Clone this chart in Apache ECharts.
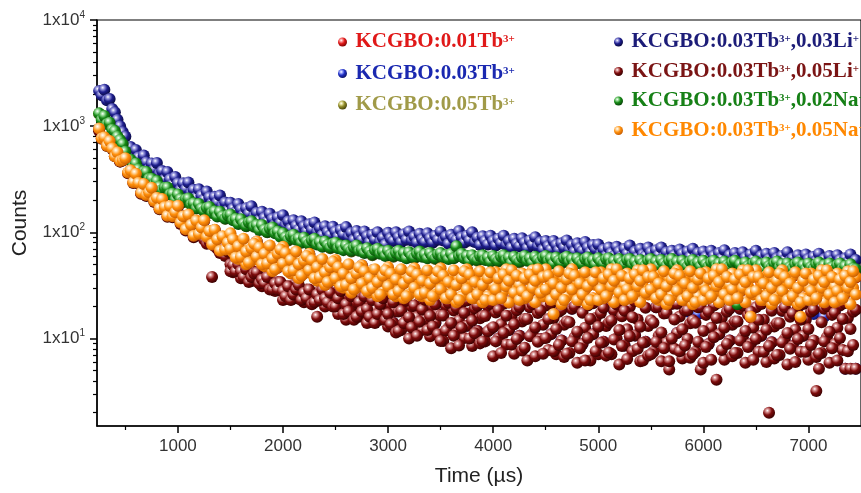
<!DOCTYPE html>
<html>
<head>
<meta charset="utf-8">
<script src="https://cdn.jsdelivr.net/npm/echarts@6/dist/echarts.min.js"></script>
<style>
html,body{margin:0;padding:0;background:#ffffff;}
#chart{width:861px;height:493px;}
</style>
</head>
<body>
<div id="chart"></div>
<script>
// ---------------- DATA ----------------
const seriesNames = [
  'KCGBO:0.01Tb3+',
  'KCGBO:0.03Tb3+',
  'KCGBO:0.05Tb3+',
  'KCGBO:0.03Tb3+,0.03Li+',
  'KCGBO:0.03Tb3+,0.05Li+',
  'KCGBO:0.03Tb3+,0.02Na+',
  'KCGBO:0.03Tb3+,0.05Na+'
];
// legend text pieces: [normal, superscript, normal, superscript]
const legendParts = [
  ['KCGBO:0.01Tb', '3+'],
  ['KCGBO:0.03Tb', '3+'],
  ['KCGBO:0.05Tb', '3+'],
  ['KCGBO:0.03Tb', '3+', ',0.03Li', '+'],
  ['KCGBO:0.03Tb', '3+', ',0.05Li', '+'],
  ['KCGBO:0.03Tb', '3+', ',0.02Na', '+'],
  ['KCGBO:0.03Tb', '3+', ',0.05Na', '+']
];

// time (µs), dense sampling (25 µs)
const timeDense = [
  250,275,300,325,350,375,400,425,450,475,
  500,525,550,575,600,625,650,675,700,725,750,775,800,825,850,875,900,925,950,975,
  1000,1025,1050,1075,1100,1125,1150,1175,1200,1225,1250,1275,1300,1325,1350,1375,1400,1425,1450,1475,
  1500,1525,1550,1575,1600,1625,1650,1675,1700,1725,1750,1775,1800,1825,1850,1875,1900,1925,1950,1975,
  2000,2025,2050,2075,2100,2125,2150,2175,2200,2225,2250,2275,2300,2325,2350,2375,2400,2425,2450,2475,
  2500,2525,2550,2575,2600,2625,2650,2675,2700,2725,2750,2775,2800,2825,2850,2875,2900,2925,2950,2975,
  3000,3025,3050,3075,3100,3125,3150,3175,3200,3225,3250,3275,3300,3325,3350,3375,3400,3425,3450,3475,
  3500,3525,3550,3575,3600,3625,3650,3675,3700,3725,3750,3775,3800,3825,3850,3875,3900,3925,3950,3975,
  4000,4025,4050,4075,4100,4125,4150,4175,4200,4225,4250,4275,4300,4325,4350,4375,4400,4425,4450,4475,
  4500,4525,4550,4575,4600,4625,4650,4675,4700,4725,4750,4775,4800,4825,4850,4875,4900,4925,4950,4975,
  5000,5025,5050,5075,5100,5125,5150,5175,5200,5225,5250,5275,5300,5325,5350,5375,5400,5425,5450,5475,
  5500,5525,5550,5575,5600,5625,5650,5675,5700,5725,5750,5775,5800,5825,5850,5875,5900,5925,5950,5975,
  6000,6025,6050,6075,6100,6125,6150,6175,6200,6225,6250,6275,6300,6325,6350,6375,6400,6425,6450,6475,
  6500,6525,6550,6575,6600,6625,6650,6675,6700,6725,6750,6775,6800,6825,6850,6875,6900,6925,6950,6975,
  7000,7025,7050,7075,7100,7125,7150,7175,7200,7225,7250,7275,7300,7325,7350,7375,7400,7425,7450
];
// time (µs), second scan of the tail (25 µs), for the two broad bands
const timeLate = [
  1500,1525,1550,1575,1600,1625,1650,1675,1700,1725,1750,1775,1800,1825,1850,1875,1900,1925,1950,1975,
  2000,2025,2050,2075,2100,2125,2150,2175,2200,2225,2250,2275,2300,2325,2350,2375,2400,2425,2450,2475,
  2500,2525,2550,2575,2600,2625,2650,2675,2700,2725,2750,2775,2800,2825,2850,2875,2900,2925,2950,2975,
  3000,3025,3050,3075,3100,3125,3150,3175,3200,3225,3250,3275,3300,3325,3350,3375,3400,3425,3450,3475,
  3500,3525,3550,3575,3600,3625,3650,3675,3700,3725,3750,3775,3800,3825,3850,3875,3900,3925,3950,3975,
  4000,4025,4050,4075,4100,4125,4150,4175,4200,4225,4250,4275,4300,4325,4350,4375,4400,4425,4450,4475,
  4500,4525,4550,4575,4600,4625,4650,4675,4700,4725,4750,4775,4800,4825,4850,4875,4900,4925,4950,4975,
  5000,5025,5050,5075,5100,5125,5150,5175,5200,5225,5250,5275,5300,5325,5350,5375,5400,5425,5450,5475,
  5500,5525,5550,5575,5600,5625,5650,5675,5700,5725,5750,5775,5800,5825,5850,5875,5900,5925,5950,5975,
  6000,6025,6050,6075,6100,6125,6150,6175,6200,6225,6250,6275,6300,6325,6350,6375,6400,6425,6450,6475,
  6500,6525,6550,6575,6600,6625,6650,6675,6700,6725,6750,6775,6800,6825,6850,6875,6900,6925,6950,6975,
  7000,7025,7050,7075,7100,7125,7150,7175,7200,7225,7250,7275,7300,7325,7350,7375,7400,7425,7450
];
// time (µs), coarse sampling (100 µs)
const timeCoarse = [
  250,350,450,
  550,650,750,850,950,
  1050,1150,1250,1350,1450,
  1550,1650,1750,1850,1950,
  2050,2150,2250,2350,2450,
  2550,2650,2750,2850,2950,
  3050,3150,3250,3350,3450,
  3550,3650,3750,3850,3950,
  4050,4150,4250,4350,4450,
  4550,4650,4750,4850,4950,
  5050,5150,5250,5350,5450,
  5550,5650,5750,5850,5950,
  6050,6150,6250,6350,6450,
  6550,6650,6750,6850,6950,
  7050,7150,7250,7350,7450
];

// KCGBO:0.01Tb3+ (coarse)
const countsTb001 = [
  940,718,464,
  380,234,260,204,141,
  141,92,129,105,68,
  76,49.5,81,71,46.5,
  57,36.6,62,53,34.6,
  42.5,26.7,48.5,43.5,27.7,
  36.6,23.8,45.5,40.6,25.7,
  34.6,21.8,44.5,40.6,24.7,
  23.8,21.8,31.7,27.7,38.6,
  33.7,20.8,44.5,39.6,23.8,
  23.8,21.8,31.7,26.7,37.6,
  33.7,20.8,43.5,39.6,24.7,
  23.8,21.8,31.7,27.7,15.8,
  33.7,20.8,43.5,38.6,23.8,
  22.8,21.8,30.7,26.7,37.6
];
// KCGBO:0.03Tb3+ (coarse)
const countsTb003 = [
  945,721,467,
  382,235,262,205,141,
  141,93,129,105,69,
  77,50,82,72,47,
  58,37,63,54,35,
  43,27,49,44,28,
  14,22,13,15,14,
  20.5,11.3,13.2,11.8,20.2,
  10,12,10.6,19.7,9.9,
  11,9.6,19.1,8.9,11,
  9.3,18.5,8.6,10.7,9.3,
  19.7,9.2,11.3,18,17,
  8.9,11,9.6,19.1,8.9,
  10.6,9.2,18.3,8.5,10.6,
  17,16,18,5.2,5.2
];
// KCGBO:0.05Tb3+ (coarse)
const countsTb005 = [
  1307,1069,733,
  478,357,317,248,230,
  192,186,157,156,134,
  133,114,116,100,101,
  84,87,77,80,71,
  74,66,68,61,65,
  59,63,57,61,56,
  60,73,59,54,57,
  53,57,52,56,52,
  56,51,55,50,54,
  50,53,49,52,48,
  52,48,52,47,51,
  47,50,47,49,46,
  49,46,49,45,48,
  45,48,44,47,44
];
// KCGBO:0.03Tb3+,0.03Li+ (dense)
const countsLi003 = [
  2150,1950,2200,1750,1800,1450,1350,1150,1000,880,
  800,615,635,519,598,510,456,529,458,395,446,391,450,357,378,316,371,316,284,332,
  290,253,290,255,295,236,252,214,254,222,204,242,214,188,216,191,222,178,191,161,
  190,167,155,185,165,146,169,150,176,142,153,130,156,137,126,150,134,119,138,123,
  145,117,127,108,130,115,106,127,114,102,119,106,124,101,110,94,114,101,94,113,
  102,91,106,95,112,91,99,85,103,91,85,102,92,81,95,85,100,82,89,77,
  99,88,83,100,90,81,96,85,102,84,91,80,97,86,81,98,88,80,93,85,
  102,84,91,78,95,88,85,103,90,80,93,84,100,81,89,76,92,83,77,93,
  83,75,87,79,93,76,83,72,87,78,74,88,80,71,84,76,90,74,81,69,
  83,74,69,83,76,68,79,72,84,69,76,66,79,71,67,81,72,65,76,69,
  77,63,69,60,72,64,60,73,66,60,70,63,75,61,66,58,70,62,60,72,
  65,58,68,61,72,59,65,56,67,61,57,69,63,56,66,59,70,58,64,55,
  66,59,55,67,60,55,64,57,68,55,61,53,64,57,54,65,58,53,62,56,
  67,55,60,52,63,56,53,64,57,52,60,55,65,54,57,50,61,55,51,62,
  56,51,59,54,63,52,56,49,60,54,51,61,55,49,57,52,62,51,55
];
// KCGBO:0.03Tb3+,0.05Li+ (dense)
const countsLi005 = [
  900,760,770,650,700,610,520,560,465,475,
  490,360,376,291,350,287,231,280,220,234,258,193,208,165,202,170,140,173,139,152,
  173,120,138,104,143,114,90,125,94,106,85,78,82,38,74,70,64,76,60,66,
  50,42,50,43,37,45,38,40,44,35,36,38,31,38,32,34,34,28,34,29,
  23,31,26,28,32,24,26,28,22,29,23,26,26,16,28,23,20,27,22,24,
  27,17,20,23,15,25,18,21,22,16,24,18,14,22,17,19,24,15,18,21,
  13,21,14,18,18,12,22,15,10,20,13,16,22,12,15,19,10.5,20,14,17,
  16.5,9.5,20.5,12.6,8.1,18.4,11.3,14.8,21.7,10.1,13.2,17.3,8.5,19.3,11.8,15.5,16.3,9.4,20.2,12.3,
  6.8,17.6,10,13.6,21.2,8.8,12,16.4,7.2,18.5,10.6,14.5,15.3,6.2,19.7,11.2,6.8,17.4,9.9,13.5,
  20.5,7.8,11,15.6,7.1,17.9,9.6,13.5,14.5,7.3,19.1,10.3,5.9,8.2,8.9,12.6,20.5,6.2,11,15.6,
  7.1,17.4,9.3,13.1,14.1,7.1,18.5,10,5.7,16.2,8.6,12.2,19.9,7.6,10.7,15.1,6.1,6.2,9.3,13.1,
  14.9,7.5,19.7,10.6,6.1,17.2,9.2,5.1,21.1,8.0,11.3,16.1,6.5,18.4,9.9,13.9,14.9,7.5,19.7,5.1,
  5.9,16.7,8.9,12.6,20.5,4.1,11,15.6,6.3,17.9,9.6,13.5,14.5,7.3,19.1,10.3,5.9,16.7,8.9,12.6,
  19.7,7.5,10.6,15,6,2.0,9.2,13,13.9,7,18.3,9.9,5.7,16,8.5,12.1,19.7,7.5,10.6,15,
  6.3,17.9,9.6,3.2,5.2,7.3,19.1,10.3,5.9,16.7,8.9,12.6,20.5,7.8,5.2,15.6,5.2,17.9,5.2
];
// KCGBO:0.03Tb3+,0.05Li+ (second scan, timeLate)
const countsLi005b = [
  43,49,43,50,43,38,45,34,38,41,42,33,36,33,38,29,29,33,29,34,
  28,25,31,23,26,29,32,23,27,24,29,21,22,26,23,29,24,22,27,20,
  20,24,28,17,21,18,25,15,16,22,18,25,19,16,23,14,17,21,24,15,
  17,13.6,22,11.4,11.8,18.3,14,22.7,15.9,12.7,20.5,10.6,14.4,18.8,23.2,12,16.3,13,21,11,
  9.5,16.5,11.9,21.7,14,10.6,19.5,8.6,12.6,17.4,22.8,10,14.7,11.2,20.4,9,9.4,16.3,11.7,21.3,
  12.8,9.4,18.6,7.3,11.3,16.4,22.5,8.8,13.6,9.9,19.8,7.7,8.2,15.3,10.5,21,12.7,9.3,18.4,7.2,
  10.1,15.3,21.5,7.6,12.3,8.7,18.7,6.7,7.2,14.2,9.4,20.1,11.6,8.1,17.5,6.2,10.1,15.3,21.5,7.6,
  12.9,9.1,19.5,6.9,7.4,14.8,9.8,20.9,12,8.5,18.3,6.4,10.5,15.9,22.4,8,12.9,9.1,19.5,6.9,
  7.1,14.1,9.3,19.9,11.4,8.1,17.4,6.1,10,15.1,21.3,7.6,12.2,8.6,18.5,6.6,7.1,14.1,9.3,19.9,
  11.8,8.3,17.9,6.3,10.3,15.6,22,7.8,12.6,8.9,19.1,6.8,7.3,14.5,9.6,20.5,11.8,8.3,17.9,6.3,
  9.9,15,21.1,7.5,12.1,8.5,18.3,6.5,7,13.9,9.2,19.7,11.3,8,17.2,6,9.9,15,21.1,7.5,
  12.3,8.7,18.7,6.7,7.2,14.2,9.4,20.1,11.6,8.1,17.5,6.2,10.1,15.3,21.6,7.6,12.3,8.7,18.7
];
// KCGBO:0.03Tb3+,0.02Na+ (dense)
const countsNa002 = [
  1320,1150,1250,1050,1080,930,900,800,740,680,
  576,486,483,418,445,393,361,373,371,319,320,282,304,270,251,263,264,229,232,204,
  227,206,194,205,208,183,188,168,185,168,159,170,173,152,158,141,156,142,135,144,
  147,130,134,120,133,121,115,124,127,113,117,105,117,106,101,108,111,98,102,91,
  98,90,85,92,95,85,88,80,89,82,78,84,87,77,81,73,82,76,72,78,
  80,71,75,68,75,70,67,72,75,67,69,64,71,66,62,68,70,63,66,60,
  67,62,60,64,67,60,64,57,65,60,58,63,66,59,62,57,64,59,57,62,
  64,58,61,56,63,57,74,60,63,57,60,54,61,56,55,60,61,55,58,53,
  60,56,54,59,61,55,58,52,59,55,53,58,60,54,57,52,59,55,53,58,
  60,54,57,51,58,54,52,57,59,53,56,50,57,53,51,56,58,52,55,50,
  57,53,51,56,57,51,54,50,56,52,50,55,56,50,53,49,55,51,49,54,
  56,50,53,49,55,51,49,54,56,50,53,48,54,50,48,53,55,50,52,48,
  54,50,48,52,54,49,51,47,53,49,48,52,54,21,50,46,52,48,47,51,
  53,48,50,46,52,48,47,51,53,47,50,45,51,47,46,50,52,47,49,45,
  51,47,46,50,52,47,49,45,51,47,45,49,51,46,48,44,50,46,45
];
// KCGBO:0.03Tb3+,0.05Na+ (dense)
const countsNa005 = [
  950,770,786,655,725,619,520,568,469,479,
  500,367,384,297,357,293,236,286,225,239,263,197,212,168,206,173,143,177,142,155,
  178,124,142,107,147,118,93,129,97,111,130,91,103,77,106,86,67,92,69,80,
  98,65,77,56,83,65,50,75,54,65,82,55,66,48,72,57,43,65,47,57,
  73,48,58,41,63,49,37,57,41,49,63,41,50,35,54,42,32,49,35,43,
  55,34,43,30,47,37,27,43,30,37,49,31,38,27,44,33,25,40,28,35,
  47,29,37,25,42,32,24,39,26,34,46,28,36,25,41,31,23,39,26,34,
  46,27,35,24,40,31,22,37,25,33,45,27,35,24,41,30,22,37,25,32,
  32,42,24,35,28,45,22,30,39,26,32,41,24,36,28,44,22,31,39,25,
  45,27,34,17,40,30,21,37,25,32,45,27,34,23,40,29,21,37,24,32,
  32,42,24,36,28,45,22,31,39,26,32,41,24,36,27,44,22,31,38,26,
  45,27,34,23,40,30,21,37,25,32,44,27,35,23,40,30,21,37,25,32,
  32,42,24,36,27,45,22,31,39,26,32,41,24,35,28,44,22,31,16,26,
  44,26,34,23,39,29,21,37,24,32,44,26,34,23,39,29,21,16,24,31,
  31,41,23,35,27,44,22,30,38,25,31,41,23,35,27,43,21,30,38
];
// KCGBO:0.03Tb3+,0.05Na+ (second scan, timeLate)
const countsNa005b = [
  70,86,58,74,59,87,66,52,71,78,59,72,50,63,51,75,57,45,63,69,
  51,64,43,55,44,66,50,39,54,60,44,55,37,47,38,56,42,34,47,53,
  37,47,31,41,32,50,37,29,41,47,33,43,28,37,30,45,34,26,39,44,
  31,41,26,36,28,45,33,25,37,43,30,40,26,35,27,44,33,25,37,43,
  29,39,24,34,26,44,32,23,37,43,29,40,24,34,26,43,32,23,37,42,
  23,29,37,24,40,31,35,44,27,39,23,28,37,25,40,30,35,45,27,38,
  29,39,23,33,26,43,30,23,36,41,29,39,23,33,26,42,31,23,35,42,
  23,29,37,25,40,31,35,45,27,39,23,29,37,25,40,31,35,44,27,38,
  29,38,24,33,26,43,31,23,36,41,28,39,23,33,25,43,30,22,36,41,
  23,28,37,25,39,31,34,45,26,38,23,29,36,24,40,30,34,44,27,38,
  28,38,23,33,25,42,30,23,35,41,28,38,23,33,25,42,30,22,35,41,
  23,28,36,24,39,30,34,44,26,38,22,28,36,24,39,30,34,43,26
];

// axis ticks
const xTickValues = [1000,2000,3000,4000,5000,6000,7000];
const xMinorTickValues = [500,1500,2500,3500,4500,5500,6500,7500];
const yTickValues = [10,100,1000,10000];
const yMinorTickValues = [2,3,4,5,6,7,8,9,20,30,40,50,60,70,80,90,200,300,400,500,600,700,800,900,2000,3000,4000,5000,6000,7000,8000,9000];

// ---------------- STYLE ----------------
const styles = [
  {c:'#e01a1a', l:'#ff9a9a', d:'#7a0000', t:'#e01818'},
  {c:'#2030c4', l:'#a0aaff', d:'#0a1060', t:'#1a28b0'},
  {c:'#8f8a2a', l:'#e4e09a', d:'#45420a', t:'#a09a48'},
  {c:'#1e1e8e', l:'#9a9ae0', d:'#08083c', t:'#1c1c78'},
  {c:'#7e0c0c', l:'#d89090', d:'#360000', t:'#7a1414'},
  {c:'#178a17', l:'#9ade9a', d:'#064006', t:'#168016'},
  {c:'#ff900c', l:'#ffdaa6', d:'#c45a00', t:'#ff8800'}
];
function ball(s) {
  return new echarts.graphic.RadialGradient(0.36, 0.32, 0.72, [
    {offset: 0, color: '#ffffff'},
    {offset: 0.2, color: s.l},
    {offset: 0.52, color: s.c},
    {offset: 1, color: s.d}
  ]);
}

function pairs(times, vals) { return times.map((t, k) => [t, vals[k]]); }
const seriesData = [
  pairs(timeCoarse, countsTb001),
  pairs(timeCoarse, countsTb003),
  pairs(timeCoarse, countsTb005),
  pairs(timeDense, countsLi003),
  pairs(timeDense, countsLi005).concat(pairs(timeLate, countsLi005b)),
  pairs(timeDense, countsNa002),
  pairs(timeDense, countsNa005).concat(pairs(timeLate, countsNa005b))
];

const legendFont = '"Liberation Serif","Times New Roman",serif';
const rich = {};
styles.forEach((s, i) => {
  rich['m' + i] = {color: s.t, fontFamily: legendFont, fontWeight: 'bold', fontSize: 21, lineHeight: 30};
  rich['s' + i] = {color: s.t, fontFamily: legendFont, fontWeight: 'bold', fontSize: 11, lineHeight: 11, verticalAlign: 'top', padding: [7, 0, 0, 0]};
});
function legendFormatter(name) {
  const i = seriesNames.indexOf(name);
  const p = legendParts[i];
  let out = '{m' + i + '|' + p[0] + '}{s' + i + '|' + p[1] + '}';
  if (p.length > 2) out += '{m' + i + '|' + p[2] + '}{s' + i + '|' + p[3] + '}';
  return out;
}

const axisFont = '"Liberation Sans", Arial, sans-serif';

const series = seriesNames.map((n, i) => ({
  name: n,
  type: 'scatter',
  symbol: 'circle',
  symbolSize: 12,
  clip: false,
  xAxisIndex: 0,
  yAxisIndex: 0,
  itemStyle: {color: ball(styles[i]), opacity: 1},
  emphasis: {disabled: true},
  data: seriesData[i]
}));

const option = {
  animation: false,
  backgroundColor: '#ffffff',
  grid: {left: 97, right: -10, top: 20, bottom: 67, show: true, borderColor: '#000', borderWidth: 1.2, backgroundColor: 'transparent'},
  legend: [
    {
      data: seriesNames.slice(0, 3),
      orient: 'vertical', left: 333, top: 22, itemGap: 6,
      icon: 'circle', itemWidth: 16, itemHeight: 9,
      formatter: legendFormatter, textStyle: {rich: rich},
      selectedMode: false
    },
    {
      data: seriesNames.slice(3),
      orient: 'vertical', left: 609, top: 22, itemGap: 4,
      icon: 'circle', itemWidth: 16, itemHeight: 9,
      formatter: legendFormatter, textStyle: {rich: rich},
      selectedMode: false
    }
  ],
  xAxis: [
    {
      type: 'value', min: 230, max: 7500, position: 'bottom',
      axisLine: {show: true, onZero: false, lineStyle: {color: '#000', width: 1.5}},
      axisTick: {show: true, inside: false, length: 7, lineStyle: {color: '#000', width: 1.5}, customValues: xTickValues},
      axisLabel: {show: true, customValues: xTickValues, formatter: v => String(v), color: '#333', fontSize: 17, fontFamily: axisFont, margin: 12},
      splitLine: {show: false},
      name: 'Time (\u00b5s)', nameLocation: 'middle', nameGap: 40,
      nameTextStyle: {color: '#222', fontSize: 21, fontFamily: axisFont}
    },
    {
      type: 'value', min: 230, max: 7500, position: 'bottom',
      axisLine: {show: false},
      axisTick: {show: true, inside: false, length: 4, lineStyle: {color: '#000', width: 1.2}, customValues: xMinorTickValues},
      axisLabel: {show: false},
      splitLine: {show: false}
    }
  ],
  yAxis: [
    {
      type: 'log', logBase: 10, min: 1.5, max: 10000, position: 'left',
      axisLine: {show: true, onZero: false, lineStyle: {color: '#000', width: 1.5}},
      axisTick: {show: true, inside: false, length: 7, lineStyle: {color: '#000', width: 1.5}, customValues: yTickValues},
      axisLabel: {
        show: true, customValues: yTickValues, margin: 12,
        formatter: v => '{m|1x10}{e|' + Math.round(Math.log10(v)) + '}',
        rich: {
          m: {color: '#333', fontSize: 17, fontFamily: axisFont, lineHeight: 20},
          e: {color: '#333', fontSize: 10, fontFamily: axisFont, lineHeight: 10, verticalAlign: 'top'}
        }
      },
      splitLine: {show: false},
      name: 'Counts', nameLocation: 'middle', nameGap: 66,
      nameTextStyle: {color: '#222', fontSize: 21, fontFamily: axisFont}
    },
    {
      type: 'log', logBase: 10, min: 1.5, max: 10000, position: 'left',
      axisLine: {show: false},
      axisTick: {show: true, inside: false, length: 4, lineStyle: {color: '#000', width: 1.2}, customValues: yMinorTickValues},
      axisLabel: {show: false},
      splitLine: {show: false}
    }
  ],
  series: series
};

const chart = echarts.init(document.getElementById('chart'), null, {renderer: 'canvas'});
chart.setOption(option);
</script>
</body>
</html>
